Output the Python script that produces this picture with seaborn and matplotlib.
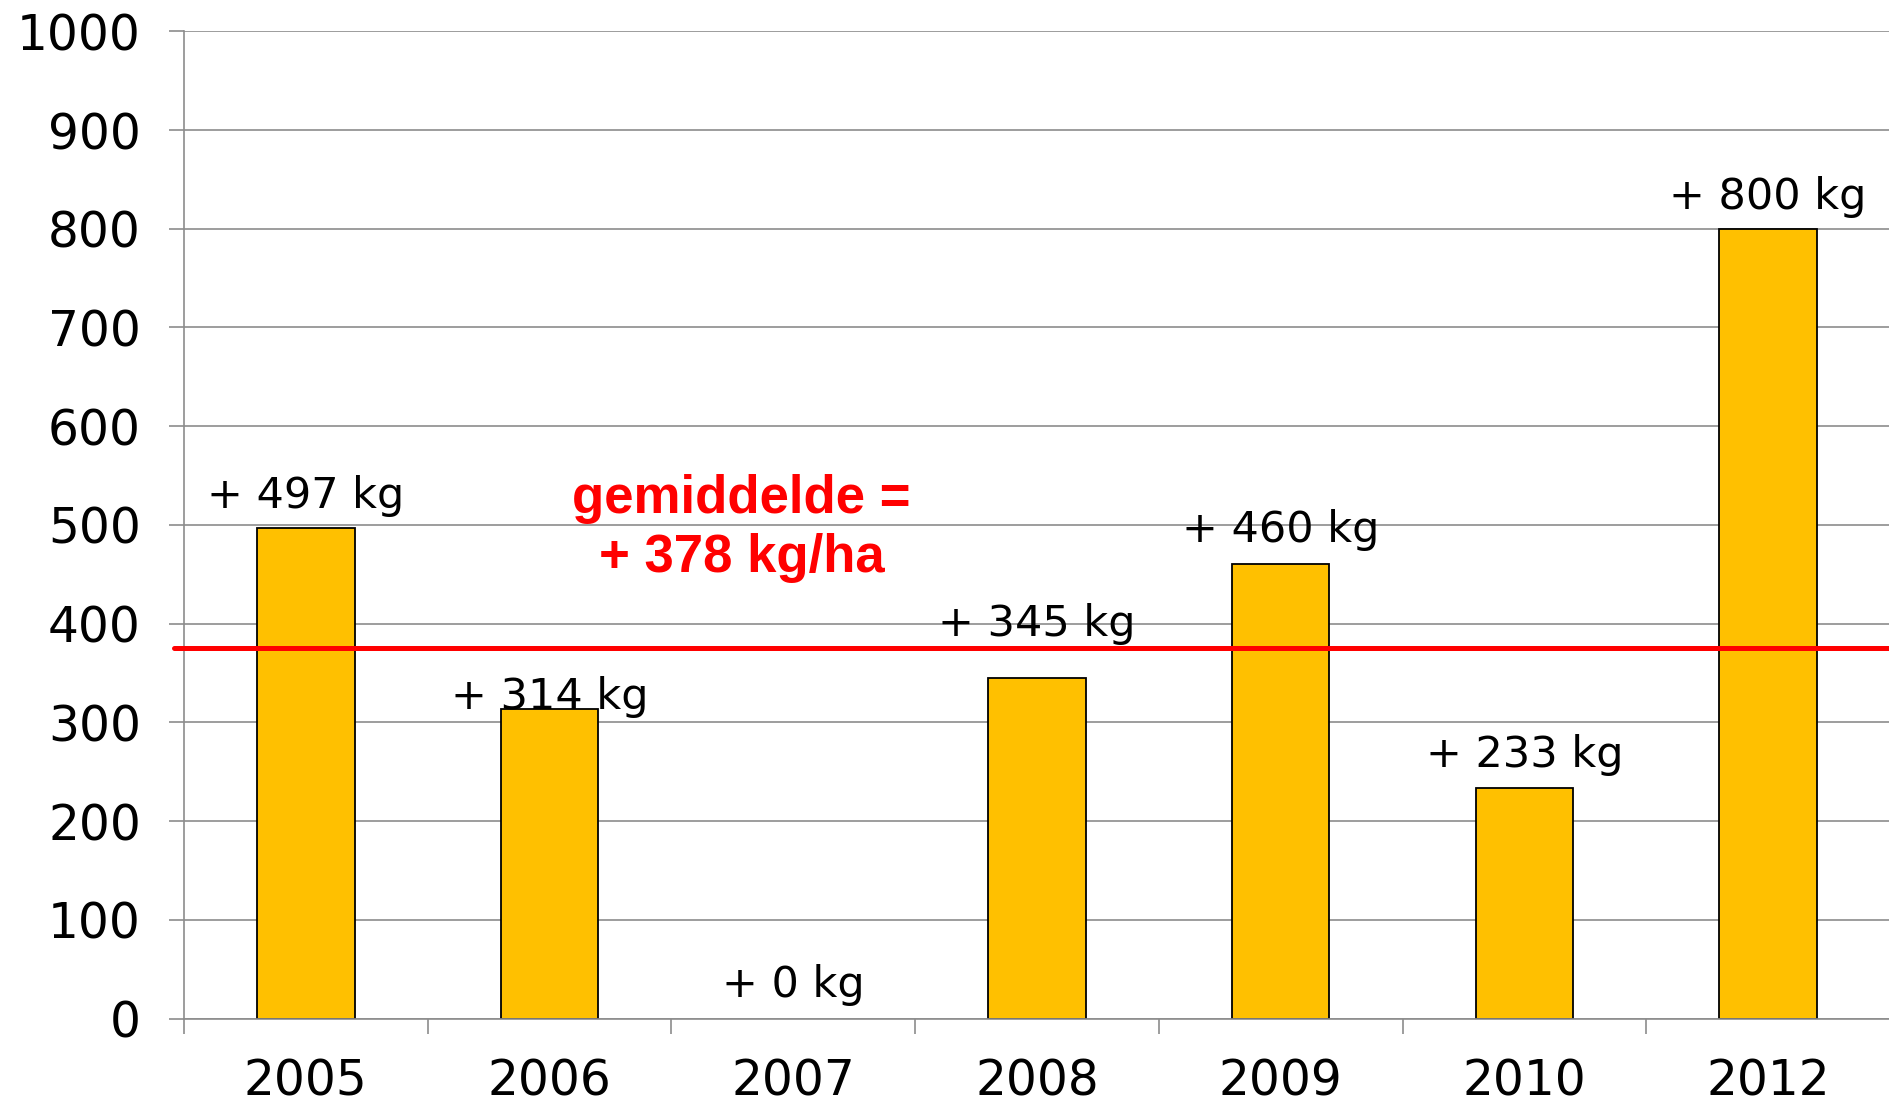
import matplotlib
matplotlib.use("Agg")
import matplotlib.pyplot as plt
import seaborn as sns
import pandas as pd
import numpy as np

# ---- data ----
years = ["2005", "2006", "2007", "2008", "2009", "2010", "2012"]
gains = [497, 314, 0, 345, 460, 233, 800]
labels = ["+ 497 kg", "+ 314 kg", "+ 0 kg", "+ 345 kg", "+ 460 kg", "+ 233 kg", "+ 800 kg"]
label_offsets_px = [20, 0, 21, 42, 22, 21, 20]
average_line = 375  # as drawn in the picture
average_text = "gemiddelde =\n+ 378 kg/ha"
y_ticks = [0, 100, 200, 300, 400, 500, 600, 700, 800, 900, 1000]

df = pd.DataFrame({"jaar": years, "kg": gains})

sns.set_theme(style="white")
plt.rcParams["font.family"] = ["DejaVu Sans"]

W, H = 1890, 1103
fig = plt.figure(figsize=(W / 100, H / 100), dpi=100)
left, right, top, bottom = 184, 1890, 31.3, 1018.5
ax = fig.add_axes([left / W, (H - bottom) / H, (right - left) / W, (bottom - top) / H])

grey = "#8C8C8C"
sns.barplot(data=df, x="jaar", y="kg", order=years, color="#FFC000",
            saturation=1, edgecolor="black", linewidth=1.3, width=0.4, ax=ax, zorder=2)
for p in ax.patches:
    if p.get_height() == 0:
        p.set_linewidth(0)

ax.set_xlim(-0.5, len(years) - 0.5)
ax.set_ylim(0, 1000)
ax.set_yticks(y_ticks)
ax.set_yticklabels([str(v) for v in y_ticks])
ax.set_xlabel("")
ax.set_ylabel("")

ax.set_axisbelow(True)
ax.yaxis.grid(True, color=grey, linewidth=1.2)
ax.xaxis.grid(False)
for s in ["top", "right"]:
    ax.spines[s].set_visible(False)
for s in ["left", "bottom"]:
    ax.spines[s].set_color(grey)
    ax.spines[s].set_linewidth(1.2)

ax.tick_params(axis="y", which="major", direction="out", length=11, width=1.2,
               color=grey, labelsize=35, pad=20, left=True, labelcolor="black")
ax.set_xticks(np.arange(len(years)))
ax.set_xticklabels(years)
ax.set_xticks(np.arange(-0.5, len(years)), minor=True)
ax.tick_params(axis="x", which="major", length=0, labelsize=35, pad=28, labelcolor="black")
ax.tick_params(axis="x", which="minor", direction="out", length=11, width=1.2, color=grey, bottom=True)

# average line
ax.axhline(average_line, xmin=-0.006, xmax=1, color="#FF0000", linewidth=3.6, zorder=3, clip_on=False)

# bar labels
for i, (v, lab, off) in enumerate(zip(gains, labels, label_offsets_px)):
    ax.annotate(lab, xy=(i, v), xytext=(0, off), textcoords="offset pixels",
                ha="center", va="baseline", fontsize=31, color="black", zorder=4)

ax.text(1.787, 452, average_text, ha="center", va="baseline", fontsize=38,
        fontweight="bold", color="#FF0000", family=["Liberation Sans", "DejaVu Sans"],
        linespacing=1.25, zorder=4)

fig.savefig("out.png", dpi=100)
